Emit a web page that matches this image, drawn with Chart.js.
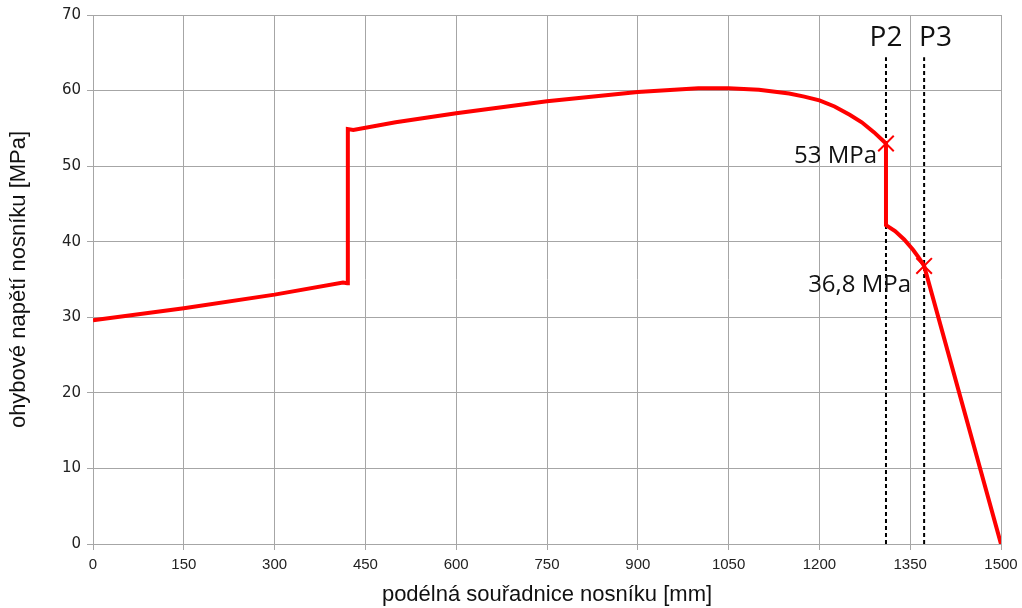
<!DOCTYPE html>
<html>
<head>
<meta charset="utf-8">
<script src="https://cdn.jsdelivr.net/npm/chart.js@4.4.1/dist/chart.umd.min.js"></script>
<style>
  html,body{margin:0;padding:0;background:#fff;}
  #wrap{width:1022px;height:608px;position:relative;}
</style>
</head>
<body>
<div id="wrap"><canvas id="c" width="1022" height="608"></canvas></div>
<script>
// curve of bending stress along the beam
const posMm  = [0,150,300,413,420,421,430,500,600,750,900,1000,1050,1100,1150,1175,1200,1225,1250,1270,1290,1310,1310,1325,1340,1355,1365,1373,1500];
const stress = [29.6,31.2,33.0,34.6,34.5,54.9,54.8,55.8,57.0,58.6,59.8,60.3,60.3,60.1,59.6,59.2,58.7,57.9,56.8,55.8,54.5,53.0,42.2,41.4,40.3,38.9,37.8,36.8,0];

// marked points
const markX = [1310,1373];
const markY = [53,36.8];
const markText = ['53 MPa','36,8 MPa'];

// section lines
const secX = [1310,1373];
const secNames = ['P2','P3'];
const secTop = 64.4;

const xTicks = [0,150,300,450,600,750,900,1050,1200,1350,1500];

const curve = posMm.map((x,i)=>({x:x,y:stress[i]}));
const marks = markX.map((x,i)=>({x:x,y:markY[i]}));

const sectionSets = secX.map(x=>({
  data:[{x:x,y:0},{x:x,y:secTop}],
  borderColor:'#000', borderWidth:2, borderDash:[4,3],
  pointRadius:0, showLine:true, order:3
}));

const labelPlugin = {
  id:'labels',
  afterDatasetsDraw(chart){
    const {ctx, scales:{x,y}} = chart;
    ctx.save();
    ctx.fillStyle = '#111';
    // section names
    ctx.font = '28px "Open Sans", sans-serif';
    ctx.textBaseline = 'alphabetic';
    ctx.textAlign = 'center';
    ctx.fillText(secNames[0], x.getPixelForValue(secX[0]), 46);
    ctx.textAlign = 'left';
    ctx.fillText(secNames[1], x.getPixelForValue(secX[1]) - 5, 46);
    // values
    ctx.font = '24px "Open Sans", sans-serif';
    ctx.textAlign = 'right';
    ctx.fillText(markText[0], x.getPixelForValue(markX[0]) - 9, y.getPixelForValue(markY[0]) + 20);
    ctx.fillText(markText[1], x.getPixelForValue(markX[1]) - 13, y.getPixelForValue(markY[1]) + 26);
    ctx.restore();
  }
};

new Chart(document.getElementById('c'), {
  type:'scatter',
  data:{
    datasets:[
      { data:curve, showLine:true, borderColor:'#ff0000', borderWidth:4, pointRadius:0, tension:0, order:1 },
      { data:marks, showLine:false, pointStyle:'crossRot', pointRadius:11, borderColor:'#ff0000', borderWidth:2, order:0 },
      ...sectionSets
    ]
  },
  options:{
    responsive:false, animation:false,
    layout:{padding:{top:15,right:21,left:0,bottom:0}},
    plugins:{legend:{display:false}, tooltip:{enabled:false}},
    scales:{
      x:{
        type:'linear', min:0, max:1500,
        afterBuildTicks(s){ s.ticks = xTicks.map(v=>({value:v})); },
        grid:{color:'#a6a6a6', lineWidth:1, tickLength:6},
        border:{color:'#a6a6a6'},
        ticks:{color:'#222', font:{family:'"Liberation Sans Narrow", "Liberation Sans", sans-serif', size:15}, padding:6, maxRotation:0, callback:v=>String(v)},
        title:{display:true, text:'podélná souřadnice nosníku [mm]', color:'#111', font:{family:'"Liberation Sans", Arial, sans-serif', size:22}, padding:{top:2,bottom:0}},
        afterFit(s){ s.height = 64; s.paddingRight = 0; s.paddingLeft = 0; }
      },
      y:{
        min:0, max:70,
        ticks:{stepSize:10, color:'#222', font:{family:'"DejaVu Sans", sans-serif', size:15}, padding:6, callback:v=>String(v)},
        grid:{color:'#a6a6a6', lineWidth:1, tickLength:6},
        border:{color:'#a6a6a6'},
        title:{display:true, text:'ohybové napětí nosníku [MPa]', color:'#111', font:{family:'"Liberation Sans", Arial, sans-serif', size:22}, padding:{top:6,bottom:4}},
        afterFit(s){ s.width = 93; }
      }
    }
  },
  plugins:[labelPlugin]
});
</script>
</body>
</html>
